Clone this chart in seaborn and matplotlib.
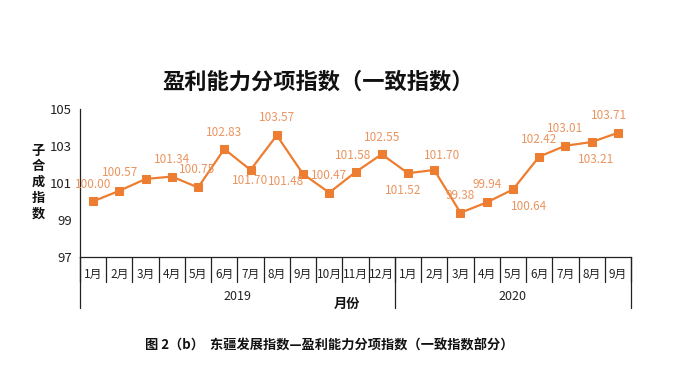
import numpy as np
import pandas as pd
import seaborn as sns
import matplotlib.pyplot as plt

months = ["1月", "2月", "3月", "4月", "5月", "6月", "7月", "8月", "9月", "10月", "11月", "12月",
          "1月", "2月", "3月", "4月", "5月", "6月", "7月", "8月", "9月"]
years = ["2019", "2020"]
year_counts = [12, 9]
values = [100.00, 100.57, 101.21, 101.34, 100.75, 102.83, 101.70, 103.57, 101.48, 100.47, 101.58, 102.55,
          101.52, 101.70, 99.38, 99.94, 100.64, 102.42, 103.01, 103.21, 103.71]
# label text per point (None = not shown in the original)
point_labels = ["100.00", "100.57", None, "101.34", "100.75", "102.83", "101.70", "103.57", "101.48",
                "100.47", "101.58", "102.55", "101.52", "101.70", "99.38", "99.94", "100.64",
                "102.42", "103.01", "103.21", "103.71"]
yticks = [97, 99, 101, 103, 105]

# label placement in pixels (dx, dy)
offsets = [(0, 17), (1, 18), (0, 17), (0, 17), (-1, 18), (0, 17), (0, -11), (0, 18), (-17, -8),
           (0, 17), (-2, 17), (0, 17), (-5, -17), (8, 14), (0, 17), (0, 18), (16, -17),
           (0, 17), (0, 17), (4, -17), (-9, 17)]

sns.set_style("white")
plt.rcParams['font.family'] = ['Noto Sans CJK SC', 'DejaVu Sans']

line_color = "#ED7D31"
label_color = "#EB9460"

df = pd.DataFrame({"pos": np.arange(len(values)), "value": values})

fig = plt.figure(figsize=(7, 3.71), dpi=100)
ax = fig.add_axes([80 / 700, 1 - 256.7 / 371, (631 - 80) / 700, (256.7 - 109) / 371])

sns.lineplot(data=df, x="pos", y="value", ax=ax, color=line_color, linewidth=1.6,
             marker="s", markersize=5.5, markeredgecolor=line_color, markerfacecolor=line_color)

for i, (v, t) in enumerate(zip(values, point_labels)):
    if t is None:
        continue
    ax.annotate(t, (i, v), xytext=offsets[i], textcoords="offset pixels",
                ha="center", va="center", fontsize=8.5, color=label_color)

n = len(values)
ax.set_xlim(-0.5, n - 0.5)
ax.set_ylim(97, 105)
ax.set_yticks(yticks)
ax.set_yticklabels([str(t) for t in yticks], fontsize=9.5)
ax.tick_params(axis="y", direction="out", length=4, width=0.8, colors="#222222", pad=2)
ax.set_xticks([])
ax.set_xlabel("")
ax.set_ylabel("")

for s in ["top", "right"]:
    ax.spines[s].set_visible(False)
for s in ["left", "bottom"]:
    ax.spines[s].set_color("#222222")
    ax.spines[s].set_linewidth(0.9)

# multi-level category axis
tr = ax.get_xaxis_transform()
h_axes = 256.7 - 109
month_bottom = -(282 - 256.7) / h_axes
year_bottom = -(308 - 256.7) / h_axes
for i in range(n + 1):
    ax.plot([i - 0.5, i - 0.5], [0, month_bottom], transform=tr, color="#222222",
            linewidth=0.9, clip_on=False)
for i, m in enumerate(months):
    ax.text(i, -(274 - 256.7) / h_axes, m, transform=tr, ha="center", va="center",
            fontsize=8.5, color="#222222")

start = 0
bounds = [0]
for y, c in zip(years, year_counts):
    ax.text(start + (c - 1) / 2, -(296 - 256.7) / h_axes, y, transform=tr, ha="center",
            va="center", fontsize=9, color="#222222")
    start += c
    bounds.append(start)
for b in bounds:
    ax.plot([b - 0.5, b - 0.5], [0, year_bottom], transform=tr, color="#222222",
            linewidth=0.9, clip_on=False)

ax.text((347 - 80) / 26.24 - 0.5, -(304 - 256.7) / h_axes, "月份", transform=tr,
        ha="center", va="center", fontsize=9.5, fontweight="bold", color="#111111")

fig.text(38 / 700, 1 - 182 / 371, "子\n合\n成\n指\n数", ha="center", va="center",
         fontsize=9.5, fontweight="bold", linespacing=1.15, color="#111111")

fig.text(318 / 700, 1 - 82 / 371, "盈利能力分项指数（一致指数）", ha="center", va="center",
         fontsize=16, fontweight="bold", color="#111111")

fig.text(145 / 700, 1 - 346 / 371, "图 2（b）  东疆发展指数—盈利能力分项指数（一致指数部分）",
         ha="left", va="center", fontsize=9.5, fontweight="bold", color="#111111")

fig.savefig("out.png", dpi=100, facecolor="white")
